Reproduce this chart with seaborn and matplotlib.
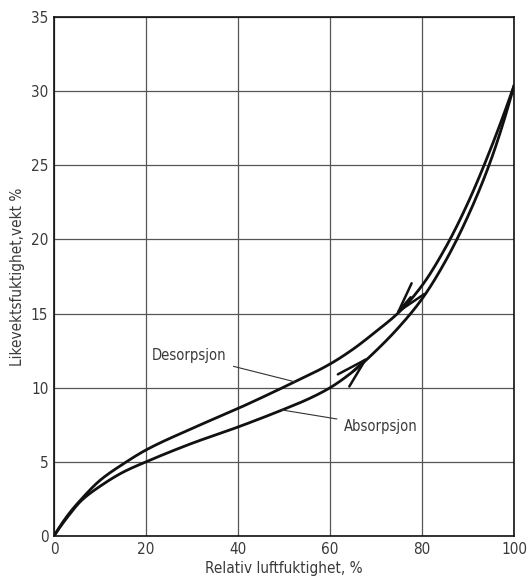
import matplotlib
matplotlib.use("Agg")
import matplotlib.pyplot as plt
import numpy as np
import pandas as pd
import seaborn as sns

# Relative humidity (%) and equilibrium moisture content (weight %)
rh_desorption = [0, 3, 6, 10, 15, 20, 30, 40, 50, 60, 65, 70, 75, 80, 85, 90, 95, 100]
mc_desorption = [0, 1.4, 2.5, 3.75, 4.85, 5.8, 7.25, 8.6, 10.05, 11.6, 12.6, 13.8, 15.1,
                 16.9, 19.4, 22.5, 26.2, 30.4]

rh_absorption = [0, 3, 6, 10, 15, 20, 30, 40, 50, 55, 60, 65, 70, 75, 80, 85, 90, 95, 100]
mc_absorption = [0, 1.3, 2.4, 3.35, 4.3, 5.0, 6.25, 7.35, 8.55, 9.2, 10.0, 11.1, 12.5,
                 14.1, 16.0, 18.5, 21.6, 25.4, 30.4]

x_ticks = [0, 20, 40, 60, 80, 100]
y_ticks = [0, 5, 10, 15, 20, 25, 30, 35]

x_label = "Relativ luftfuktighet, %"
y_label = "Likevektsfuktighet,vekt %"
label_desorption = "Desorpsjon"
label_absorption = "Absorpsjon"

sns.set_theme(style="white")
plt.rcParams["font.family"] = ["DejaVu Sans"]
plt.rcParams["font.stretch"] = "condensed"

TEXT = "#3a3a3a"


def pchip(x, y, xs):
    """Shape-preserving cubic Hermite interpolation."""
    x = np.asarray(x, float)
    y = np.asarray(y, float)
    h = np.diff(x)
    d = np.diff(y) / h
    m = np.zeros_like(y)
    for i in range(1, len(x) - 1):
        if d[i - 1] * d[i] > 0:
            w1 = 2 * h[i] + h[i - 1]
            w2 = h[i] + 2 * h[i - 1]
            m[i] = (w1 + w2) / (w1 / d[i - 1] + w2 / d[i])
    m[0] = ((2 * h[0] + h[1]) * d[0] - h[0] * d[1]) / (h[0] + h[1])
    m[-1] = ((2 * h[-1] + h[-2]) * d[-1] - h[-1] * d[-2]) / (h[-1] + h[-2])
    idx = np.clip(np.searchsorted(x, xs) - 1, 0, len(x) - 2)
    t = (xs - x[idx]) / h[idx]
    h00 = 2 * t**3 - 3 * t**2 + 1
    h10 = t**3 - 2 * t**2 + t
    h01 = -2 * t**3 + 3 * t**2
    h11 = t**3 - t**2
    return (h00 * y[idx] + h10 * h[idx] * m[idx]
            + h01 * y[idx + 1] + h11 * h[idx] * m[idx + 1])


xs = np.linspace(0, 100, 501)
smooth = pd.concat([
    pd.DataFrame({"rh": xs, "mc": pchip(rh_desorption, mc_desorption, xs),
                  "kurve": label_desorption}),
    pd.DataFrame({"rh": xs, "mc": pchip(rh_absorption, mc_absorption, xs),
                  "kurve": label_absorption}),
])

fig = plt.figure(figsize=(5.29, 5.80), dpi=100)
ax = fig.add_axes([0.102, 0.0759, 0.870, 0.8948])

sns.lineplot(data=smooth, x="rh", y="mc", units="kurve", estimator=None,
             color="#111111", linewidth=2.0, ax=ax, legend=False, sort=False)

ax.set_xlim(0, 100)
ax.set_ylim(0, 35)
ax.set_xticks(x_ticks)
ax.set_yticks(y_ticks)
ax.grid(True, color="#555555", linewidth=0.9)
ax.set_axisbelow(True)
for s in ax.spines.values():
    s.set_color("#111111")
    s.set_linewidth(1.2)
ax.tick_params(length=0, labelsize=11, labelcolor=TEXT, pad=4)
ax.set_xlabel(x_label, fontsize=11, color=TEXT, labelpad=3)
ax.set_ylabel(y_label, fontsize=11, color=TEXT, labelpad=4)

# Direction arrows on the curves
arrow_kw = dict(arrowstyle="->,head_length=1.8,head_width=0.5", color="#111111",
                lw=1.8, shrinkA=0, shrinkB=0)
ax.annotate("", xy=(74.2, 14.9), xytext=(77.5, 16.1), arrowprops=arrow_kw)
ax.annotate("", xy=(68.4, 12.1), xytext=(65.0, 11.1), arrowprops=arrow_kw)

# Curve labels with leader lines
leader = dict(arrowstyle="-", color="#333333", lw=0.8, shrinkA=3, shrinkB=0)
ax.annotate(label_desorption, xy=(52.3, 10.4), xytext=(29.3, 12.2),
            fontsize=10.5, color=TEXT, ha="center", va="center",
            arrowprops=leader)
ax.annotate(label_absorption, xy=(49.5, 8.5), xytext=(71.1, 7.4),
            fontsize=10.5, color=TEXT, ha="center", va="center",
            arrowprops=leader)

fig.savefig("out.png", dpi=100)
